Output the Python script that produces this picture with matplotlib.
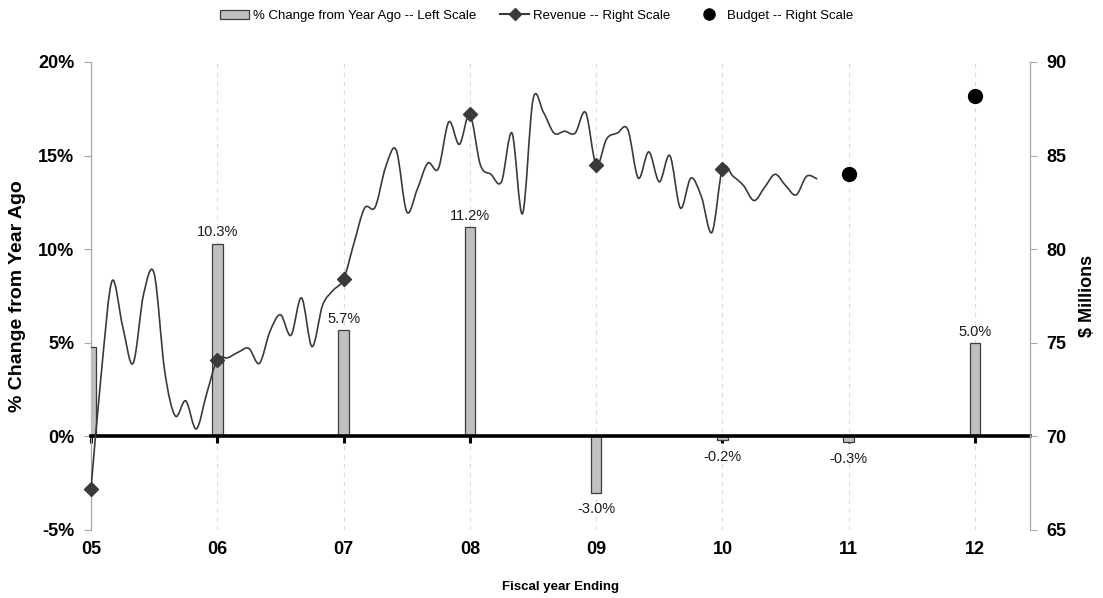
import numpy as np
import matplotlib
matplotlib.use('Agg')
import matplotlib.pyplot as plt
from matplotlib.path import Path
from matplotlib.patches import PathPatch, Patch
from matplotlib.lines import Line2D

plt.rcParams['font.family'] = ['Liberation Sans', 'DejaVu Sans']

# ---------------- data ----------------
years = [5, 6, 7, 8, 9, 10, 11, 12]
year_labels = ['05', '06', '07', '08', '09', '10', '11', '12']
pct_change = [4.8, 10.3, 5.7, 11.2, -3.0, -0.2, -0.3, 5.0]
pct_labels = ['', '10.3%', '5.7%', '11.2%', '-3.0%', '-0.2%', '-0.3%', '5.0%']

# monthly revenue ($ millions), starting at fiscal year end 05
revenue = [
    67.2, 73.5, 78.3, 75.9, 73.9, 77.6, 78.7, 73.5, 71.1, 71.9, 70.4, 72.3,   # FY05 -> FY06
    74.1, 74.2, 74.5, 74.7, 73.9, 75.6, 76.5, 75.4, 77.4, 74.8, 77.0, 77.8,   # FY06 -> FY07
    78.4, 80.35, 82.2, 82.25, 84.4, 85.3, 82.0, 83.2, 84.6, 84.3, 86.8, 85.6, # FY07 -> FY08
    87.2, 84.5, 84.0, 83.6, 86.2, 81.9, 88.0, 87.3, 86.2, 86.3, 86.2, 87.3,   # FY08 -> FY09
    84.5, 85.9, 86.2, 86.4, 83.8, 85.2, 83.6, 85.0, 82.2, 83.8, 82.8, 80.9,   # FY09 -> FY10
    84.3, 83.9, 83.4, 82.6, 83.3, 84.0, 83.4, 82.9, 83.9, 83.75,              # FY10 -> ...
]
budget_years = [11, 12]
budget = [84.0, 88.2]

# ---------------- figure ----------------
W, H = 1103, 598
fig = plt.figure(figsize=(W / 100, H / 100), dpi=100)
ax = fig.add_axes([91 / W, 1 - 530 / H, (1030 - 91) / W, (530 - 62) / H])

bar_color = '#c0c0c0'
edge_color = '#3c3c3c'
line_color = '#3a3a3a'
spine_gray = '#a8a8a8'

ax.bar(years, pct_change, width=0.084, color=bar_color, edgecolor=edge_color,
       linewidth=0.9, zorder=3)
for x, v, t in zip(years, pct_change, pct_labels):
    if not t:
        continue
    if v >= 0:
        ax.annotate(t, (x, v), xytext=(0, 3), textcoords='offset points',
                    ha='center', va='bottom', fontsize=10.5, color='#1a1a1a')
    else:
        ax.annotate(t, (x, v), xytext=(0, -7), textcoords='offset points',
                    ha='center', va='top', fontsize=10.5, color='#1a1a1a')

ax.set_xlim(5, 12.435)
ax.set_ylim(-5, 20)
ax.set_yticks([-5, 0, 5, 10, 15, 20])
ax.set_yticklabels([f'{v}%' for v in [-5, 0, 5, 10, 15, 20]],
                   fontsize=13, fontweight='bold')
ax.tick_params(axis='y', length=5, width=0.8, color=spine_gray, pad=7)

ax.set_xticks(years)
ax.tick_params(axis='x', direction='out', length=5, width=2.2, color='black',
               labelbottom=False)
ax.grid(axis='x', linestyle=(0, (4, 4)), color='#dcdcdc', linewidth=0.8, zorder=0)
ax.set_axisbelow(True)

for s in ['top', 'right']:
    ax.spines[s].set_visible(False)
ax.spines['left'].set_color(spine_gray)
ax.spines['left'].set_linewidth(0.9)
ax.spines['bottom'].set_position(('data', 0))
ax.spines['bottom'].set_color('black')
ax.spines['bottom'].set_linewidth(2.6)
ax.spines['bottom'].set_zorder(4)

sec = ax.secondary_xaxis('bottom')
sec.set_xticks(years)
sec.set_xticklabels(year_labels, fontsize=13, fontweight='bold')
sec.tick_params(length=0, pad=8)
sec.spines['bottom'].set_visible(False)

# ---------------- right axis ----------------
ax2 = ax.twinx()
ax2.set_ylim(65, 90)
ax2.set_yticks([65, 70, 75, 80, 85, 90])
ax2.set_yticklabels(['65', '70', '75', '80', '85', '90'], fontsize=13,
                    fontweight='bold')
ax2.tick_params(axis='y', length=5, width=0.8, color=spine_gray, pad=7)
for s in ['top', 'left', 'bottom']:
    ax2.spines[s].set_visible(False)
ax2.spines['right'].set_color(spine_gray)
ax2.spines['right'].set_linewidth(0.9)

# smoothed revenue line (Catmull-Rom as cubic Bezier)
xm = 5 + np.arange(len(revenue)) / 12.0
ym = np.array(revenue, dtype=float)
pts = np.column_stack([xm, ym])
P = np.vstack([pts[0], pts, pts[-1]])
verts = [pts[0]]
codes = [Path.MOVETO]
for i in range(len(pts) - 1):
    p0, p1, p2, p3 = P[i], P[i + 1], P[i + 2], P[i + 3]
    c1 = p1 + (p2 - p0) / 6.0
    c2 = p2 - (p3 - p1) / 6.0
    verts += [c1, c2, p2]
    codes += [Path.CURVE4] * 3
ax2.add_patch(PathPatch(Path(np.array(verts), codes), fill=False,
                        edgecolor=line_color, linewidth=1.2, zorder=5))
ax2.plot(xm[::12], ym[::12], 'D', color=line_color, markersize=7,
         clip_on=False, zorder=6)
ax2.plot(budget_years, budget, 'o', color='black', markersize=10,
         linestyle='none', zorder=6)

# ---------------- labels ----------------
fig.text(18 / W, 1 - 296 / H, '% Change from Year Ago', rotation=90,
         ha='center', va='center', fontsize=14, fontweight='bold')
fig.text(1088 / W, 1 - 296 / H, '$ Millions', rotation=90,
         ha='center', va='center', fontsize=13, fontweight='bold')
fig.text(560 / W, 1 - 587 / H, 'Fiscal year Ending', ha='center', va='center',
         fontsize=9.5, fontweight='bold')

handles = [
    Patch(facecolor=bar_color, edgecolor=edge_color, linewidth=0.9),
    Line2D([], [], color=line_color, marker='D', markersize=6, linewidth=1.5),
    Line2D([], [], color='black', marker='o', markersize=8, linestyle='none'),
]
labels = ['% Change from Year Ago -- Left Scale', 'Revenue -- Right Scale',
          'Budget -- Right Scale']
fig.legend(handles, labels, loc='center', bbox_to_anchor=(537 / W, 1 - 16 / H),
           ncol=3, frameon=False, fontsize=9.5, handlelength=2.2,
           handletextpad=0.3, columnspacing=1.8)

fig.savefig('out.png', dpi=100)
